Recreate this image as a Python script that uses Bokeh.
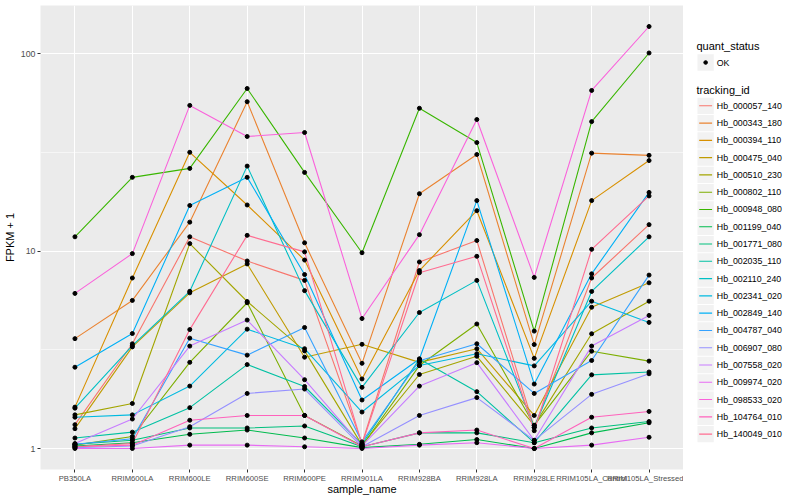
from bokeh.plotting import figure
from bokeh.layouts import row
from bokeh.models import FactorRange, Range1d, FixedTicker, BasicTickFormatter
from bokeh.core.properties import value
from bokeh.embed import file_html
from bokeh.resources import INLINE

samples = ["PB350LA", "RRIM600LA", "RRIM600LE", "RRIM600SE", "RRIM600PE", "RRIM901LA",
           "RRIM928BA", "RRIM928LA", "RRIM928LE", "RRIM105LA_Control", "RRIM105LA_Stressed"]

tracking_ids = ["Hb_000057_140", "Hb_000343_180", "Hb_000394_110", "Hb_000475_040", "Hb_000510_230",
                "Hb_000802_110", "Hb_000948_080", "Hb_001199_040", "Hb_001771_080", "Hb_002035_110",
                "Hb_002110_240", "Hb_002341_020", "Hb_002849_140", "Hb_004787_040", "Hb_006907_080",
                "Hb_007558_020", "Hb_009974_020", "Hb_098533_020", "Hb_104764_010", "Hb_140049_010"]

colors = ["#F8766D", "#EA8331", "#D89000", "#C09B00", "#A3A500", "#7CAE00", "#39B600", "#00BB4E",
          "#00BF7D", "#00C1A3", "#00BFC4", "#00BAE0", "#00B0F6", "#35A2FF", "#9590FF", "#C77CFF",
          "#E76BF3", "#FA62DB", "#FF62BC", "#FF6C91"]

# FPKM + 1 values, one list per tracking_id, in sample order
Hb_000057_140 = [1.32, 3.39, 11.8, 8.9, 7.1, 1.06, 8.8, 11.3, 1.28, 7.3, 13.6]
Hb_000343_180 = [3.6, 5.62, 14.0, 57.0, 11.0, 2.7, 19.5, 30.8, 3.36, 31.3, 30.5]
Hb_000394_110 = [1.62, 7.3, 31.6, 17.1, 9.0, 2.25, 7.96, 16.0, 2.86, 18.0, 28.7]
Hb_000475_040 = [1.26, 3.27, 6.14, 8.6, 2.9, 3.37, 2.73, 3.2, 1.47, 5.19, 6.9]
Hb_000510_230 = [1.48, 1.69, 10.9, 5.55, 3.12, 1.04, 2.37, 2.93, 1.31, 3.81, 5.57]
Hb_000802_110 = [1.04, 1.15, 2.73, 5.47, 1.47, 1.03, 2.63, 4.27, 1.31, 3.11, 2.77]
Hb_000948_080 = [11.8, 23.6, 26.2, 66.5, 25.0, 9.8, 52.8, 35.4, 3.93, 45.2, 100.6]
Hb_001199_040 = [1.03, 1.07, 1.18, 1.24, 1.13, 1.01, 1.05, 1.11, 1.0, 1.20, 1.35]
Hb_001771_080 = [1.05, 1.10, 1.27, 1.27, 1.30, 1.02, 1.20, 1.20, 1.07, 1.27, 1.37]
Hb_002035_110 = [1.13, 1.21, 1.61, 2.66, 2.06, 1.05, 2.84, 1.94, 1.07, 2.36, 2.44]
Hb_002110_240 = [1.6, 3.32, 6.25, 26.9, 6.3, 2.04, 4.88, 7.1, 1.28, 6.24, 11.8]
Hb_002341_020 = [1.44, 1.48, 2.07, 4.02, 3.2, 1.53, 2.63, 3.02, 2.62, 5.57, 4.35]
Hb_002849_140 = [2.58, 3.82, 17.0, 23.6, 7.6, 1.76, 2.84, 18.0, 2.12, 7.66, 19.8]
Hb_004787_040 = [1.05, 1.12, 3.62, 2.97, 4.1, 1.08, 2.78, 3.39, 1.9, 2.79, 7.55]
Hb_006907_080 = [1.01, 1.03, 1.29, 1.90, 2.0, 1.02, 1.47, 1.81, 1.1, 1.88, 2.39]
Hb_007558_020 = [1.06, 1.41, 3.3, 4.47, 2.23, 1.03, 2.07, 2.72, 1.1, 3.30, 4.72]
Hb_009974_020 = [1.0, 1.0, 1.04, 1.04, 1.02, 1.0, 1.04, 1.07, 1.0, 1.04, 1.14]
Hb_098533_020 = [6.1, 9.7, 54.6, 38.0, 39.8, 4.55, 12.1, 46.3, 7.35, 65.0, 137.0]
Hb_104764_010 = [1.02, 1.04, 1.39, 1.47, 1.47, 1.02, 1.20, 1.24, 1.0, 1.44, 1.54]
Hb_140049_010 = [1.02, 1.06, 4.0, 12.0, 9.9, 1.05, 7.76, 9.4, 1.23, 10.2, 19.0]

series = [Hb_000057_140, Hb_000343_180, Hb_000394_110, Hb_000475_040, Hb_000510_230,
          Hb_000802_110, Hb_000948_080, Hb_001199_040, Hb_001771_080, Hb_002035_110,
          Hb_002110_240, Hb_002341_020, Hb_002849_140, Hb_004787_040, Hb_006907_080,
          Hb_007558_020, Hb_009974_020, Hb_098533_020, Hb_104764_010, Hb_140049_010]

y_ticks = [1, 10, 100]
y_minor = [10 ** 0.5, 10 ** 1.5]

MAIN_W = 683          # page x 0 .. 683
TOP = 5
FRAME_H = 464         # page y 5 .. 469
LEG_W = 117
LEG_H = TOP + FRAME_H
# log-scale range so that 1 / 10 / 100 sit where the reference draws them
y_lo = 10 ** (-(469 - 448) / 197.5)
y_hi = 10 ** (2 + (53 - 5) / 197.5)

sans = "Liberation Sans, Arial, sans-serif"

p = figure(x_range=FactorRange(factors=samples, range_padding=0.1, range_padding_units="absolute"),
           y_range=Range1d(y_lo, y_hi), y_axis_type="log",
           width=MAIN_W, frame_height=FRAME_H,
           min_border_left=0, min_border_top=TOP, min_border_bottom=0, min_border_right=0,
           output_backend="svg", toolbar_location=None)

p.background_fill_color = "#EBEBEB"
p.border_fill_color = "white"
p.outline_line_color = None

p.yaxis.ticker = FixedTicker(ticks=y_ticks, minor_ticks=y_minor)
p.yaxis.formatter = BasicTickFormatter()
p.ygrid.grid_line_color = "white"
p.ygrid.grid_line_width = 1.1
p.ygrid.minor_grid_line_color = "white"
p.ygrid.minor_grid_line_width = 0.55
p.xgrid.grid_line_color = "white"
p.xgrid.grid_line_width = 1.1

for ax in (p.xaxis[0], p.yaxis[0]):
    ax.axis_line_color = None
    ax.major_tick_line_color = "#333333"
    ax.major_tick_out = 3
    ax.major_tick_in = 0
    ax.minor_tick_line_color = None
    ax.major_label_text_color = "#4D4D4D"
    ax.major_label_text_font = sans
    ax.axis_label_text_font_size = "11px"
    ax.axis_label_text_font_style = "normal"
    ax.axis_label_text_color = "black"
    ax.axis_label_text_font = sans
    ax.major_label_standoff = 1

p.xaxis.major_label_text_font_size = "7.7px"
p.yaxis.major_label_text_font_size = "8.8px"
p.xaxis.axis_label_standoff = -3
p.yaxis.axis_label_standoff = 2
p.xaxis.axis_label = "sample_name"
p.yaxis.axis_label = "FPKM + 1"

for col, vals in zip(colors, series):
    p.line(samples, vals, line_color=col, line_width=1.1)
for vals in series:
    p.scatter(samples, vals, size=4.0, marker="circle", fill_color="black", line_color="black")

# ---- legend panel: a separate figure whose data units are pixels (y measured upward) ----
lg = figure(frame_width=LEG_W, frame_height=LEG_H,
            x_range=Range1d(0, LEG_W), y_range=Range1d(0, LEG_H),
            x_axis_location=None, y_axis_location=None,
            min_border=0, output_backend="svg", toolbar_location=None)
lg.grid.visible = False
lg.outline_line_color = None
lg.background_fill_color = "white"
lg.border_fill_color = "white"

KEY = 17.28           # ggplot legend key size
LX = 14               # left edge of keys
TITLE_Q = 40.7        # vertical centres, measured from the top of the panel
ITEM_Q = 57.0
TITLE_T = 84.0
ITEM_T0 = 100.3
n = len(tracking_ids)

def up(y_from_top):
    return LEG_H - y_from_top

centres = [ITEM_Q] + [ITEM_T0 + i * KEY for i in range(n)]
lg.quad(left=LX, right=LX + KEY - 1, bottom=[up(c) - KEY / 2 + 0.5 for c in centres],
        top=[up(c) + KEY / 2 - 0.5 for c in centres], fill_color="#F2F2F2", line_color=None)

item_y = [up(c) for c in centres[1:]]
lg.segment(x0=LX + 1.7, x1=LX + KEY - 2.7, y0=item_y, y1=item_y, line_color=colors, line_width=1.1)
lg.scatter([LX + (KEY - 1) / 2], [up(ITEM_Q)], size=3.6, marker="circle",
           fill_color="black", line_color="black")

lg.text(x=[LX - 1, LX - 1], y=[up(TITLE_Q), up(TITLE_T)], text=["quant_status", "tracking_id"],
        text_font=value("Liberation Sans"), text_font_size="11px", text_color="black",
        text_baseline="middle", text_align="left")
lg.text(x=[LX + KEY + 2] * (n + 1), y=[up(c) for c in centres], text=["OK"] + tracking_ids,
        text_font=value("Liberation Sans"), text_font_size="8.8px", text_color="black",
        text_baseline="middle", text_align="left")

layout = row(p, lg)
open("out.html", "w").write(file_html(layout, INLINE))
